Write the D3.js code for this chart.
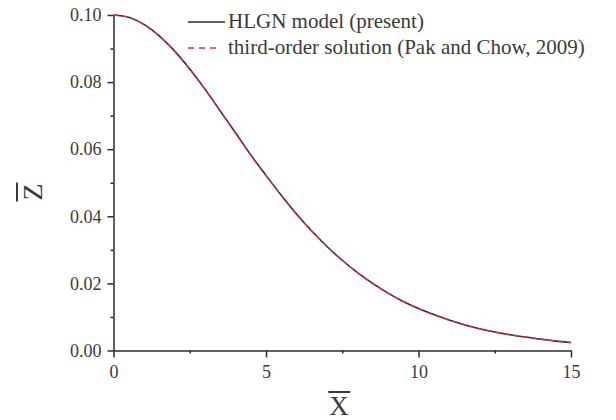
<!DOCTYPE html>
<html>
<head>
<meta charset="utf-8">
<script src="https://cdn.jsdelivr.net/npm/d3@7"></script>
<style>
  body { margin: 0; background: #fff; }
  svg { display: block; font-family: "Liberation Serif", "Times New Roman", serif; }
</style>
</head>
<body>
<svg id="chart" width="616" height="420"></svg>
<script>
(function() {

    // values, one point every 0.5 along X
    var xValues = [0, 0.5, 1, 1.5, 2, 2.5, 3, 3.5, 4, 4.5, 5, 5.5, 6, 6.5, 7, 7.5,
                   8, 8.5, 9, 9.5, 10, 10.5, 11, 11.5, 12, 12.5, 13, 13.5, 14, 14.5, 15];
    var hlgnZ = [0.1000, 0.0993, 0.0972, 0.0938, 0.0893, 0.0839, 0.0779, 0.0714,
                 0.0649, 0.0583, 0.0522, 0.0463, 0.0407, 0.0356, 0.0310, 0.0269,
                 0.0232, 0.0200, 0.0171, 0.0146, 0.0125, 0.0107, 0.0091, 0.0077,
                 0.0065, 0.0055, 0.0047, 0.0040, 0.0034, 0.0028, 0.0024];
    var pakZ  = [0.1000, 0.0993, 0.0971, 0.0937, 0.0892, 0.0838, 0.0778, 0.0713,
                 0.0648, 0.0582, 0.0521, 0.0462, 0.0406, 0.0356, 0.0310, 0.0269,
                 0.0232, 0.0199, 0.0171, 0.0146, 0.0125, 0.0106, 0.0091, 0.0077,
                 0.0065, 0.0055, 0.0047, 0.0040, 0.0034, 0.0028, 0.0024];

    var xTicks = [0, 5, 10, 15];
    var xMinor = [2.5, 7.5, 12.5];
    var yTicks = [0, 0.02, 0.04, 0.06, 0.08, 0.10];
    var yMinor = [0.01, 0.03, 0.05, 0.07, 0.09];
    var seriesNames = ["HLGN model (present)", "third-order solution (Pak and Chow, 2009)"];

    var AXIS_COLOR = "#2b2b2b";
    var TEXT_COLOR = "#3a3a3a";

    var svg = d3.select("#chart");

    var x = d3.scaleLinear().domain([0, 15]).range([113.5, 571]);
    var y = d3.scaleLinear().domain([0, 0.10]).range([350.5, 15]);

    // minor ticks first, drawn under the main axes
    svg.append("g")
        .attr("transform", "translate(0," + y(0) + ")")
        .call(d3.axisBottom(x).tickValues(xMinor).tickSize(3).tickFormat(""))
        .call(function(g) { g.select(".domain").remove(); });
    svg.append("g")
        .attr("transform", "translate(" + x(0) + ",0)")
        .call(d3.axisLeft(y).tickValues(yMinor).tickSize(3).tickFormat(""))
        .call(function(g) { g.select(".domain").remove(); });

    svg.append("g")
        .attr("transform", "translate(0," + y(0) + ")")
        .call(d3.axisBottom(x).tickValues(xTicks).tickSizeInner(7).tickSizeOuter(0)
            .tickPadding(8).tickFormat(d3.format("d")));

    svg.append("g")
        .attr("transform", "translate(" + x(0) + ",0)")
        .call(d3.axisLeft(y).tickValues(yTicks).tickSizeInner(6).tickSizeOuter(0)
            .tickPadding(6).tickFormat(d3.format(".2f")));

    svg.selectAll(".tick line, .domain")
        .attr("stroke", AXIS_COLOR)
        .attr("stroke-width", 1.5);
    svg.selectAll(".tick text")
        .attr("fill", TEXT_COLOR)
        .attr("font-family", "Liberation Serif, serif")
        .attr("font-size", 18);

    // curves
    var line = d3.line()
        .x(function(d) { return x(d[0]); })
        .y(function(d) { return y(d[1]); })
        .curve(d3.curveMonotoneX);

    svg.append("path")
        .datum(d3.zip(xValues, hlgnZ))
        .attr("fill", "none")
        .attr("stroke", "#2e2e2e")
        .attr("stroke-width", 1.6)
        .attr("d", line);

    svg.append("path")
        .datum(d3.zip(xValues, pakZ))
        .attr("fill", "none")
        .attr("stroke", "#ee2a36")
        .attr("stroke-width", 1.4)
        .attr("stroke-dasharray", "5,4")
        .attr("d", line);

    // legend
    var legend = svg.append("g").attr("transform", "translate(188,0)");
    var legendRows = [
        {name: seriesNames[0], color: "#2e2e2e", dash: null, y: 22, len: 37},
        {name: seriesNames[1], color: "#ee2a36", dash: "6,5", y: 48, len: 32}
    ];
    legendRows.forEach(function(r) {
        legend.append("line")
            .attr("x1", 0).attr("x2", r.len)
            .attr("y1", r.y).attr("y2", r.y)
            .attr("stroke", r.color)
            .attr("stroke-width", 1.6)
            .attr("stroke-dasharray", r.dash);
        legend.append("text")
            .attr("x", 40)
            .attr("y", r.y + 6)
            .attr("fill", TEXT_COLOR)
            .style("font-size", "21px")
            .text(r.name);
    });

    // axis titles with an overbar
    var xTitle = svg.append("text")
        .attr("x", 339)
        .attr("y", 415)
        .attr("text-anchor", "middle")
        .attr("fill", TEXT_COLOR)
        .style("font-size", "27px")
        .text("X");
    var xb = xTitle.node().getBBox();
    svg.append("line")
        .attr("x1", xb.x - 1).attr("x2", xb.x + xb.width + 1)
        .attr("y1", 392).attr("y2", 392)
        .attr("stroke", TEXT_COLOR).attr("stroke-width", 2);

    var yTitleG = svg.append("g").attr("transform", "translate(42,192) rotate(-90)");
    var yTitle = yTitleG.append("text")
        .attr("x", 0)
        .attr("y", 0)
        .attr("text-anchor", "middle")
        .attr("fill", TEXT_COLOR)
        .style("font-size", "28px")
        .text("Z");
    var yb = yTitle.node().getBBox();
    yTitleG.append("line")
        .attr("x1", yb.x - 1).attr("x2", yb.x + yb.width + 1)
        .attr("y1", -25).attr("y2", -25)
        .attr("stroke", TEXT_COLOR).attr("stroke-width", 2);

})();
</script>
</body>
</html>
